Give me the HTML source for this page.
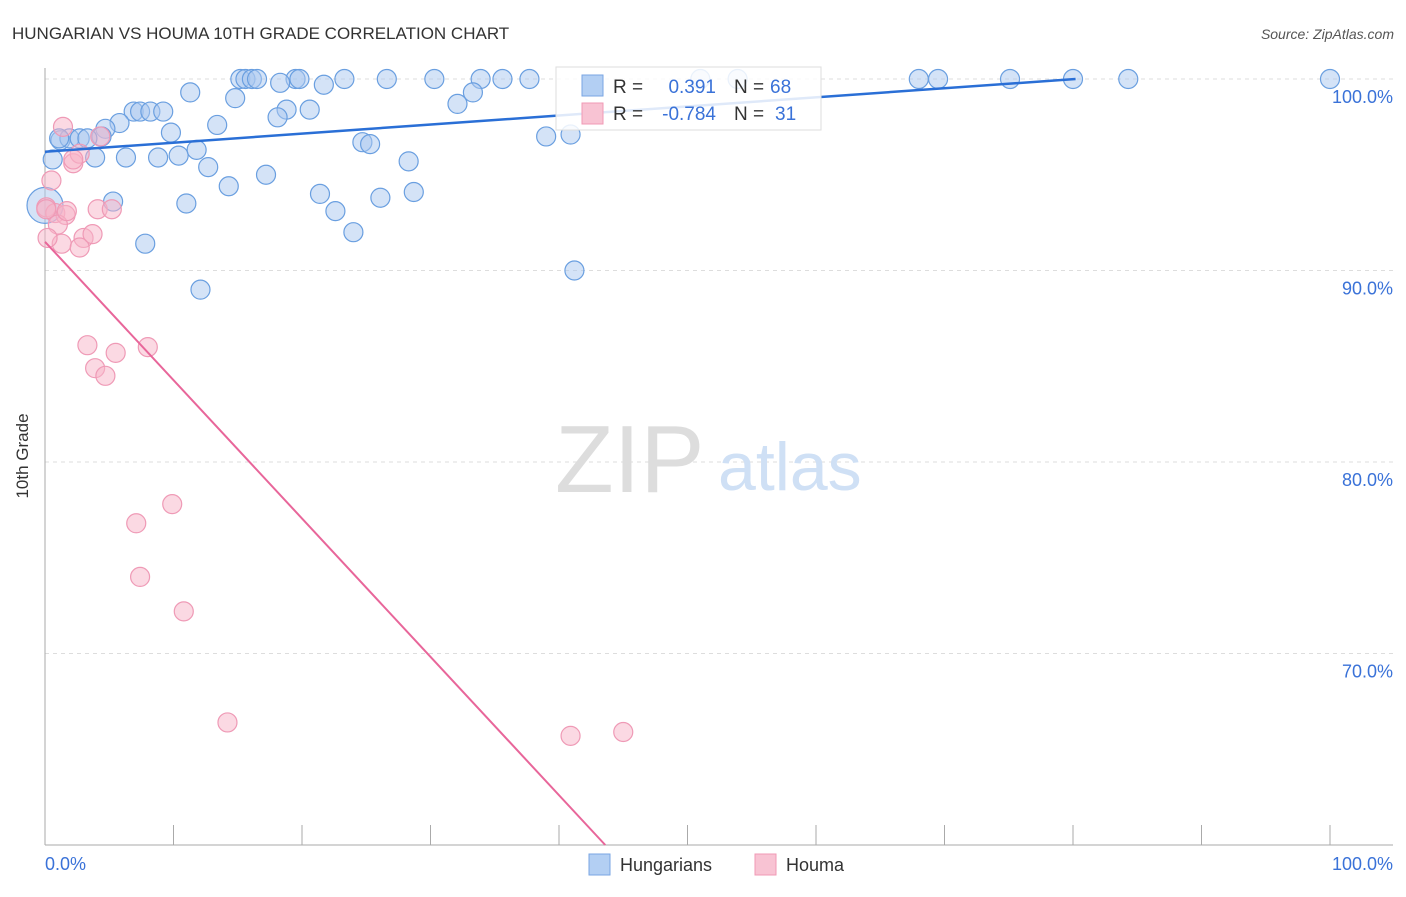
<!DOCTYPE html>
<html><head><meta charset="utf-8"><style>
body{margin:0;background:#fff;font-family:"Liberation Sans",sans-serif}
svg text{font-family:"Liberation Sans",sans-serif}
</style></head><body>
<svg id="c" width="1406" height="892">
<text x="12" y="39" font-size="17" fill="#333">HUNGARIAN VS HOUMA 10TH GRADE CORRELATION CHART</text>
<text x="1394" y="39" font-size="14" fill="#555" font-style="italic" text-anchor="end">Source: ZipAtlas.com</text>
<text x="28" y="456" font-size="17" fill="#333" transform="rotate(-90 28 456)" text-anchor="middle">10th Grade</text>
<g id="grid"></g>
<text x="555" y="492" font-size="96" fill="#ddd" font-family="Liberation Serif">ZIP</text>
<text x="718" y="490" font-size="68" fill="#cfe0f5">atlas</text>
<g id="pts"></g>
<g>
<rect x="556" y="67" width="265" height="63" fill="#fff" fill-opacity="0.85" stroke="#ddd"/>
<rect x="582" y="75" width="21" height="21" fill="#b3cff3" stroke="#7aa6e3"/>
<rect x="582" y="103" width="21" height="21" fill="#f8c3d3" stroke="#f09ab5"/>
<text x="613" y="93" font-size="19" fill="#333">R =</text><text x="716" y="93" font-size="19" fill="#3a72d8" text-anchor="end">0.391</text>
<text x="734" y="93" font-size="19" fill="#333">N =</text><text x="770" y="93" font-size="19" fill="#3a72d8">68</text>
<text x="613" y="120" font-size="19" fill="#333">R =</text><text x="716" y="120" font-size="19" fill="#3a72d8" text-anchor="end">-0.784</text>
<text x="734" y="120" font-size="19" fill="#333">N =</text><text x="775" y="120" font-size="19" fill="#3a72d8">31</text>
</g>
<g>
<rect x="589" y="854" width="21" height="21" fill="#b3cff3" stroke="#7aa6e3"/>
<text x="620" y="871" font-size="18" fill="#333">Hungarians</text>
<rect x="755" y="854" width="21" height="21" fill="#f8c3d3" stroke="#f09ab5"/>
<text x="786" y="871" font-size="18" fill="#333">Houma</text>
</g>
</svg>
<script>
const yTicks=[100,90,80,70];
const xTickLabels=["0.0%","100.0%"];
const blueX=[15.2,15.6,16.1,16.5,19.5,19.8,23.3,26.6,30.3,33.9,35.6,37.7,51.0,53.9,68.0,69.5,75.1,80.0,84.3,100,
11.3,14.8,18.3,21.7,33.3,32.1,18.8,20.6,6.9,7.4,8.2,9.2,5.8,13.4,18.1,4.7,4.4,9.8,1.2,1.9,2.7,3.3,1.1,24.7,25.3,39.0,40.9,
0.6,3.9,6.3,8.8,10.4,11.8,28.3,12.7,17.2,14.3,21.4,26.1,28.7,5.3,11.0,22.6,24.0,7.8,12.1,41.2,0.0];
const blueY=[100,100,100,100,100,100,100,100,100,100,100,100,100,100,100,100,100,100,100,100,
99.3,99.0,99.8,99.7,99.3,98.7,98.4,98.4,98.3,98.3,98.3,98.3,97.7,97.6,98.0,97.4,97.0,97.2,96.8,96.9,96.9,96.9,96.9,96.7,96.6,97.0,97.1,
95.8,95.9,95.9,95.9,96.0,96.3,95.7,95.4,95.0,94.4,94.0,93.8,94.1,93.6,93.5,93.1,92.0,91.4,89.0,90.0,93.4];
const pinkX=[1.4,0.5,2.2,2.7,4.3,0.1,0.8,1.6,1.0,1.7,4.1,5.2,1.3,3.0,2.7,3.7,0.2,3.3,5.5,8.0,3.9,4.7,7.1,9.9,7.4,10.8,14.2,40.9,45.0,0.1,2.2];
const pinkY=[97.5,94.7,95.6,96.1,97.0,93.3,93.0,92.9,92.4,93.1,93.2,93.2,91.4,91.7,91.2,91.9,91.7,86.1,85.7,86.0,84.9,84.5,76.8,77.8,74.0,72.2,66.4,65.7,65.9,93.2,95.8];
const blueTrend=[[0,96.2],[80.2,100]];
const pinkTrend=[[0,91.5],[43.6,60]];
const sx=v=>45+v*12.85, sy=v=>79+(100-v)*19.15;
const NS="http://www.w3.org/2000/svg";
function mk(t,a,p){const e=document.createElementNS(NS,t);for(const k in a)e.setAttribute(k,a[k]);p.appendChild(e);return e;}
const g=document.getElementById('grid');
yTicks.forEach(t=>{
 const l=mk('line',{x1:45,x2:1393,y1:sy(t),y2:sy(t),stroke:'#ddd','stroke-dasharray':'4 4'},g);
 
 
 const tx=mk('text',{x:1393,y:sy(t)+24,'font-size':18,fill:'#3a72d8','text-anchor':'end'},g);
 tx.textContent=t.toFixed(1)+'%';
 
 
});
const ax=mk('line',{x1:45,x2:45,y1:68,y2:845,stroke:'#aaa'},g);


const bx=mk('line',{x1:45,x2:1393,y1:845,y2:845,stroke:'#aaa'},g);


for(let i=0;i<=10;i++){const v=i*10;const t=mk('line',{x1:sx(v),x2:sx(v),y1:825,y2:845,stroke:'#aaa'},g);
 
 }
[[0,'start',45],[100,'end',1393]].forEach((d,i)=>{const t=mk('text',{x:d[2],y:870,'font-size':18,fill:'#3a72d8','text-anchor':d[1]},g);t.textContent=xTickLabels[i];
 
 });
const p=document.getElementById('pts');
blueX.forEach((x,i)=>{const c=mk('circle',{cx:sx(x),cy:sy(blueY[i]),r:(i==blueX.length-1)?18:9.5,fill:'#a9c8f0','fill-opacity':0.5,stroke:'#6a9fe0','stroke-width':1.2},p);
 
 });
pinkX.forEach((x,i)=>{const c=mk('circle',{cx:sx(x),cy:sy(pinkY[i]),r:9.5,fill:'#f7b3c8','fill-opacity':0.5,stroke:'#ef9ab6','stroke-width':1.2},p);
 
 });
const bl=mk('line',{x1:sx(blueTrend[0][0]),y1:sy(blueTrend[0][1]),x2:sx(blueTrend[1][0]),y2:sy(blueTrend[1][1]),stroke:'#2a6fd6','stroke-width':2.5},p);


const pl=mk('line',{x1:sx(pinkTrend[0][0]),y1:sy(pinkTrend[0][1]),x2:sx(pinkTrend[1][0]),y2:sy(pinkTrend[1][1]),stroke:'#e8669a','stroke-width':2},p);


</script>
</body></html>
